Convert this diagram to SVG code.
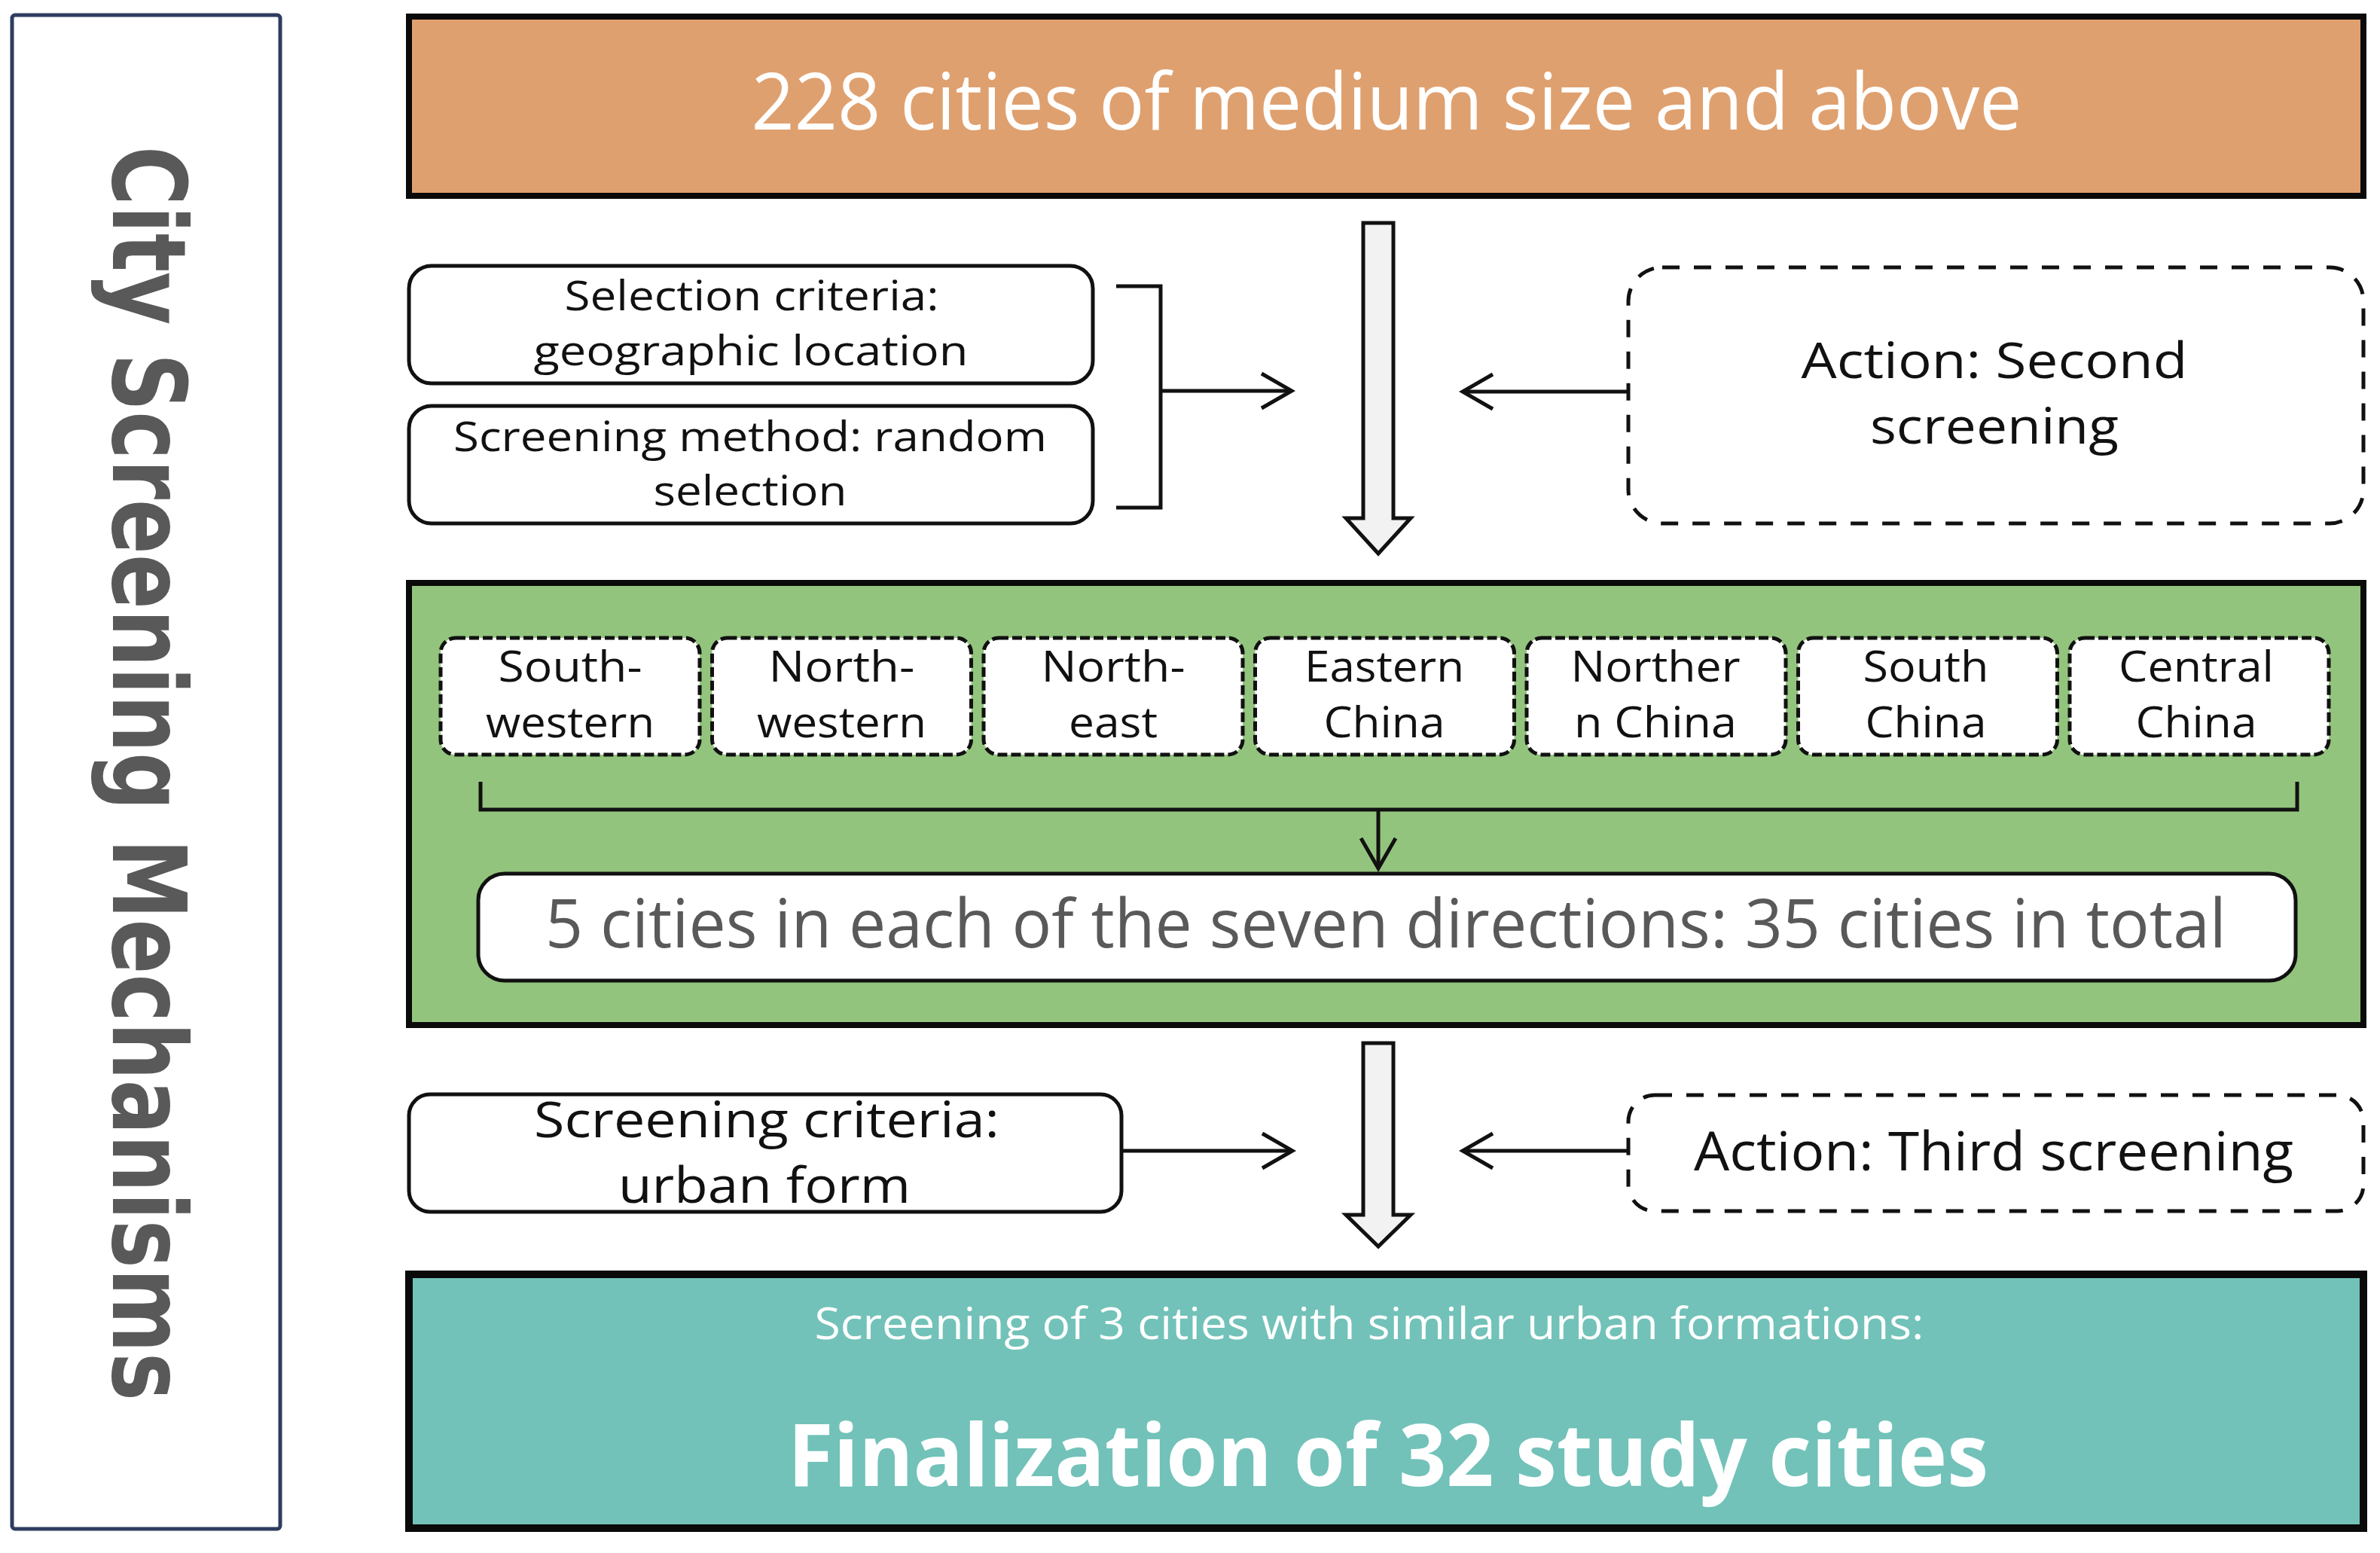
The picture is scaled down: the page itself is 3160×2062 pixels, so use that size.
<svg xmlns="http://www.w3.org/2000/svg" width="3160" height="2062" viewBox="0 0 3160 2062">
<defs>
<style>
.t{font-family:"Open Sans","Noto Sans","Liberation Sans",sans-serif;text-anchor:middle}
.blk{fill:#111111}
.wht{fill:#ffffff}
.gry{fill:#595959}
.box{fill:#ffffff;stroke:#111111;stroke-width:5}
.dash{fill:#ffffff;stroke:#111111;stroke-width:5;stroke-dasharray:23 19}
.rdash{fill:#ffffff;stroke:#111111;stroke-width:5;stroke-dasharray:13 5}
.big{stroke:#0a0a0a;stroke-width:8}
.conn{fill:none;stroke:#111111;stroke-width:5}
.fat{fill:#f2f2f2;stroke:#111111;stroke-width:5;stroke-linejoin:miter}
</style>
<marker id="open" markerUnits="userSpaceOnUse" markerWidth="70" markerHeight="70" viewBox="-55 -35 70 70" refX="0" refY="0" orient="auto">
<path d="M-40,-23 L0,0 L-40,23" fill="none" stroke="#111111" stroke-width="5"/>
</marker>
</defs>
<rect width="3160" height="2062" fill="#ffffff"/>

<g id="side">
<rect x="16" y="20" width="356" height="2010" rx="4" fill="#ffffff" stroke="#2e3d5e" stroke-width="5"/>
<text transform="translate(150,194) rotate(90)" font-family="'DejaVu Sans',Verdana,sans-serif" font-weight="bold" font-size="136" fill="#595959" textLength="1666" lengthAdjust="spacingAndGlyphs">City Screening Mechanisms</text>
</g>

<g id="top">
<rect x="543" y="22" width="2595" height="238" fill="#dfa06f" class="big"/>
<text class="t wht" x="1841" y="172" font-size="104" textLength="1687" lengthAdjust="spacingAndGlyphs">228 cities of medium size and above</text>
</g>

<g id="crit1">
<rect class="box" x="543" y="353" width="908" height="156" rx="30"/>
<text class="t blk" x="998" y="412" font-size="55" textLength="497" lengthAdjust="spacingAndGlyphs">Selection criteria:</text>
<text class="t blk" x="997" y="485" font-size="55" textLength="577" lengthAdjust="spacingAndGlyphs">geographic location</text>
</g>

<g id="method1">
<rect class="box" x="543" y="539" width="908" height="156" rx="30"/>
<text class="t blk" x="996" y="599" font-size="55" textLength="788" lengthAdjust="spacingAndGlyphs">Screening method: random</text>
<text class="t blk" x="996" y="671" font-size="55" textLength="257" lengthAdjust="spacingAndGlyphs">selection</text>
</g>

<g id="action2">
<rect class="dash" x="2162" y="355" width="976" height="340" rx="45"/>
<text class="t blk" x="2648" y="502" font-size="66" textLength="513" lengthAdjust="spacingAndGlyphs">Action: Second</text>
<text class="t blk" x="2648" y="589" font-size="66" textLength="330" lengthAdjust="spacingAndGlyphs">screening</text>
</g>

<g id="regions">
<rect x="543" y="774" width="2595" height="587" fill="#93c47d" class="big"/>
<g id="r1">
<rect class="rdash" x="585" y="847" width="344" height="155" rx="20"/>
<text class="t blk" x="757" y="905" font-size="56" textLength="191" lengthAdjust="spacingAndGlyphs">South-</text>
<text class="t blk" x="757" y="979" font-size="56" textLength="224" lengthAdjust="spacingAndGlyphs">western</text>
</g>
<g id="r2">
<rect class="rdash" x="945.5" y="847" width="344" height="155" rx="20"/>
<text class="t blk" x="1117.5" y="905" font-size="56" textLength="194" lengthAdjust="spacingAndGlyphs">North-</text>
<text class="t blk" x="1117.5" y="979" font-size="56" textLength="225" lengthAdjust="spacingAndGlyphs">western</text>
</g>
<g id="r3">
<rect class="rdash" x="1306" y="847" width="344" height="155" rx="20"/>
<text class="t blk" x="1478" y="905" font-size="56" textLength="191" lengthAdjust="spacingAndGlyphs">North-</text>
<text class="t blk" x="1478" y="979" font-size="56" textLength="118" lengthAdjust="spacingAndGlyphs">east</text>
</g>
<g id="r4">
<rect class="rdash" x="1666.5" y="847" width="344" height="155" rx="20"/>
<text class="t blk" x="1838" y="905" font-size="56" textLength="212" lengthAdjust="spacingAndGlyphs">Eastern</text>
<text class="t blk" x="1838" y="979" font-size="56" textLength="161" lengthAdjust="spacingAndGlyphs">China</text>
</g>
<g id="r5">
<rect class="rdash" x="2027" y="847" width="344" height="155" rx="20"/>
<text class="t blk" x="2198" y="905" font-size="56" textLength="225" lengthAdjust="spacingAndGlyphs">Norther</text>
<text class="t blk" x="2198" y="979" font-size="56" textLength="216" lengthAdjust="spacingAndGlyphs">n China</text>
</g>
<g id="r6">
<rect class="rdash" x="2387.5" y="847" width="344" height="155" rx="20"/>
<text class="t blk" x="2557" y="905" font-size="56" textLength="167" lengthAdjust="spacingAndGlyphs">South</text>
<text class="t blk" x="2557" y="979" font-size="56" textLength="161" lengthAdjust="spacingAndGlyphs">China</text>
</g>
<g id="r7">
<rect class="rdash" x="2748" y="847" width="344" height="155" rx="20"/>
<text class="t blk" x="2916" y="905" font-size="56" textLength="206" lengthAdjust="spacingAndGlyphs">Central</text>
<text class="t blk" x="2916" y="979" font-size="56" textLength="161" lengthAdjust="spacingAndGlyphs">China</text>
</g>
</g>

<g id="total35">
<rect class="box" x="635" y="1160" width="2413" height="142" rx="35"/>
<text class="t gry" x="1840" y="1258" font-size="90" textLength="2232" lengthAdjust="spacingAndGlyphs">5 cities in each of the seven directions: 35 cities in total</text>
</g>

<g id="crit2">
<rect class="box" x="543" y="1453" width="946" height="156" rx="28"/>
<text class="t blk" x="1018" y="1510" font-size="66" textLength="618" lengthAdjust="spacingAndGlyphs">Screening criteria:</text>
<text class="t blk" x="1015" y="1597" font-size="66" textLength="388" lengthAdjust="spacingAndGlyphs">urban form</text>
</g>

<g id="action3">
<rect class="dash" x="2162" y="1454" width="976" height="154" rx="35"/>
<text class="t blk" x="2647" y="1554" font-size="72" textLength="796" lengthAdjust="spacingAndGlyphs">Action: Third screening</text>
</g>

<g id="final">
<rect x="543" y="1692" width="2595" height="337" fill="#72c2b9" stroke="#0a0a0a" stroke-width="10"/>
<text class="t wht" x="1818" y="1778" font-size="58" textLength="1473" lengthAdjust="spacingAndGlyphs">Screening of 3 cities with similar urban formations:</text>
<text class="t wht" x="1843" y="1973" font-size="115" font-weight="bold" textLength="1594" lengthAdjust="spacingAndGlyphs">Finalization of 32 study cities</text>
</g>

<g id="connectors">
<polygon class="fat" points="1810,296 1850,296 1850,688 1873,688 1830,735 1787,688 1810,688"/>
<polygon class="fat" points="1810,1385 1850,1385 1850,1613 1873,1613 1830,1655 1787,1613 1810,1613"/>
<path class="conn" d="M1482,380 H1541 V674 H1482"/>
<path class="conn" d="M1541,519 H1715" marker-end="url(#open)"/>
<path class="conn" d="M2160,520 H1942" marker-end="url(#open)"/>
<path class="conn" d="M1490,1528 H1716" marker-end="url(#open)"/>
<path class="conn" d="M2162,1528 H1942" marker-end="url(#open)"/>
<path class="conn" d="M638,1038 V1075 H3050 V1038"/>
<path class="conn" d="M1830,1075 V1153" marker-end="url(#open)"/>
</g>
</svg>
